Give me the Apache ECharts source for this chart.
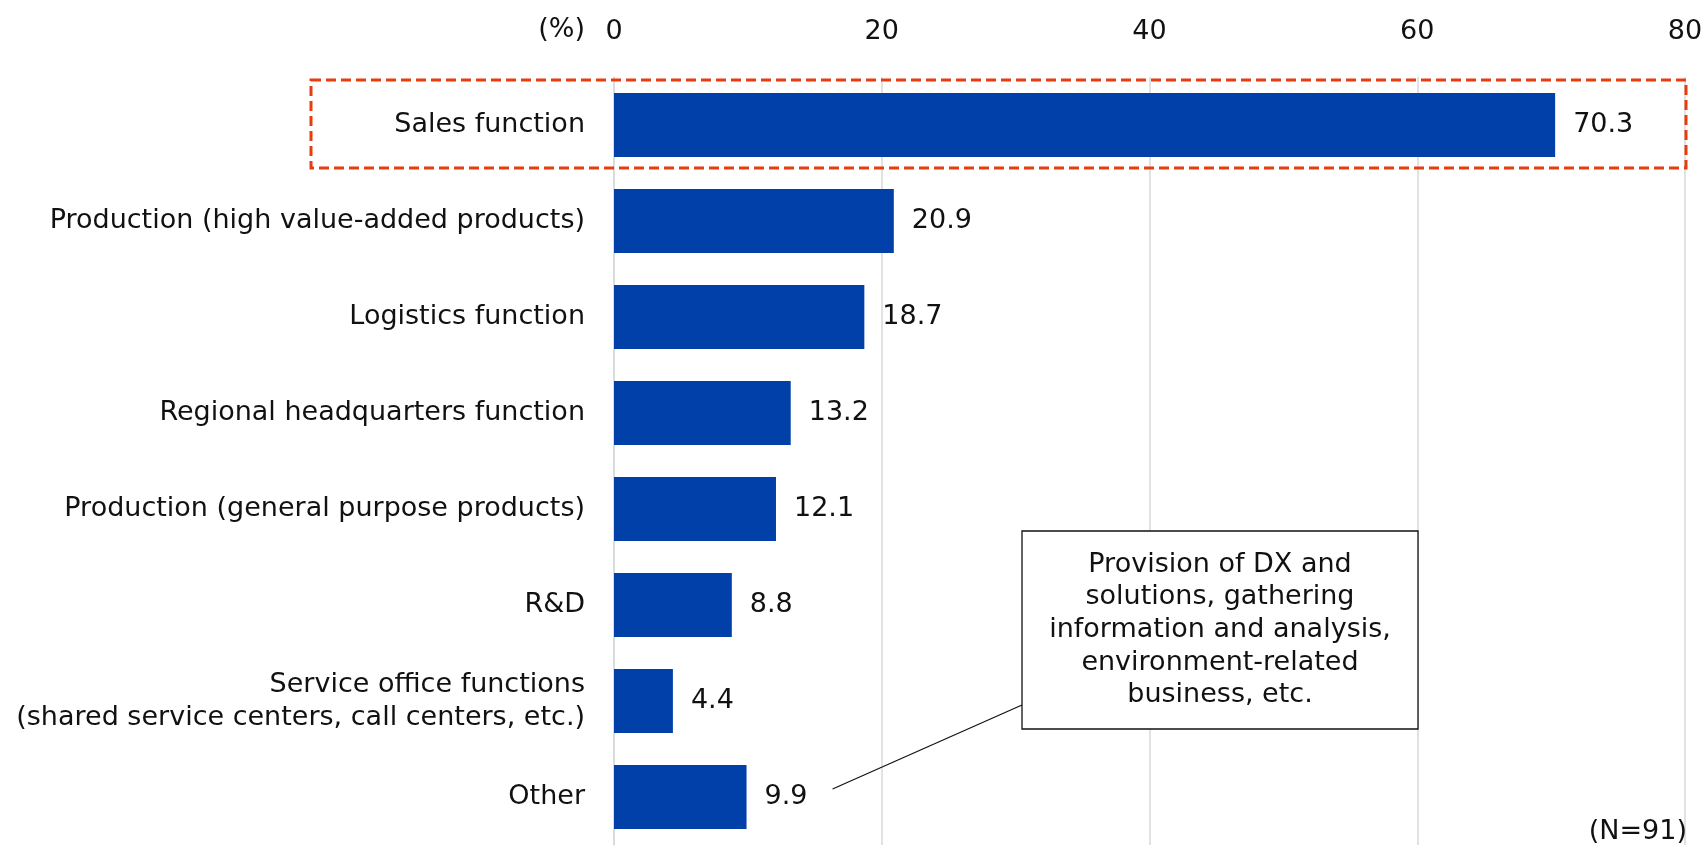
<!DOCTYPE html>
<html>
<head>
<meta charset="utf-8">
<script src="https://cdn.jsdelivr.net/npm/echarts@6/dist/echarts.min.js"></script>
<style>
  html, body { margin: 0; padding: 0; background: #ffffff; }
  #chart { width: 1706px; height: 848px; }
</style>
</head>
<body>
<div id="chart"></div>
<script>
// Functions named by respondents (%), N=91
const categories = [
  'Sales function',
  'Production (high value-added products)',
  'Logistics function',
  'Regional headquarters function',
  'Production (general purpose products)',
  'R&D',
  'Service office functions\n(shared service centers, call centers, etc.)',
  'Other'
];
const shares = [70.3, 20.9, 18.7, 13.2, 12.1, 8.8, 4.4, 9.9];

// Value axis range and step
const axisMin = 0;
const axisMax = 80;
const axisStep = 20;

const unitLabel = '(%)';
const sampleLabel = '(N=91)';
const otherNoteLines = [
  'Provision of DX and',
  'solutions, gathering',
  'information and analysis,',
  'environment-related',
  'business, etc.'
];

const FONT = 'DejaVu Sans';
const FS = 27;
const BAR_COLOR = '#0040A8';
const HIGHLIGHT = '#E63C0F';

const chart = echarts.init(document.getElementById('chart'), null, { renderer: 'canvas' });

const option = {
  animation: false,
  backgroundColor: '#ffffff',
  textStyle: { fontFamily: FONT },
  grid: { left: 614, right: 21, top: 77, bottom: 3, containLabel: false },
  xAxis: {
    type: 'value',
    position: 'top',
    min: axisMin,
    max: axisMax,
    interval: axisStep,
    axisLine: { show: false },
    axisTick: { show: false },
    axisLabel: { color: '#111', fontFamily: FONT, fontSize: FS, margin: 32 },
    splitLine: { show: true, lineStyle: { color: '#d9d9d9', width: 1.5 } }
  },
  yAxis: {
    type: 'category',
    inverse: true,
    data: categories,
    axisLine: { show: true, lineStyle: { color: '#d9d9d9', width: 1.5 } },
    axisTick: { show: false },
    axisLabel: {
      color: '#111', fontFamily: FONT, fontSize: FS, margin: 29,
      align: 'right', lineHeight: 33
    }
  },
  series: [{
    type: 'bar',
    data: shares,
    barCategoryGap: '33.3%',
    itemStyle: { color: BAR_COLOR },
    label: {
      show: true,
      position: 'right',
      distance: 18,
      color: '#111',
      fontFamily: FONT,
      fontSize: FS,
      formatter: p => p.value.toFixed(1)
    }
  }]
};

chart.setOption(option);

// Overlays: highlight frame around the top row, callout for "Other", unit and sample notes
const salesPt = chart.convertToPixel({ xAxisIndex: 0, yAxisIndex: 0 }, [axisMax, categories[0]]);
const otherPt = chart.convertToPixel({ xAxisIndex: 0, yAxisIndex: 0 }, [shares[7], categories[7]]);
const zeroPt = chart.convertToPixel({ xAxisIndex: 0, yAxisIndex: 0 }, [axisMin, categories[0]]);

const frameLeft = 311;
const frameRight = salesPt[0] + 1;
const frameTop = salesPt[1] - 45;
const frameBottom = salesPt[1] + 43;

const boxX = 1022, boxY = 531, boxW = 396, boxH = 198;
const lineStart = [otherPt[0] + 86, otherPt[1] - 8];
const lineEnd = [boxX, 705];

const textFont = FS + 'px "' + FONT + '"';

chart.setOption({
  graphic: [
    {
      type: 'rect',
      shape: { x: frameLeft, y: frameTop, width: frameRight - frameLeft, height: frameBottom - frameTop },
      style: { fill: 'none', stroke: HIGHLIGHT, lineWidth: 3, lineDash: [10, 5] },
      z: 100
    },
    {
      type: 'line',
      shape: { x1: lineStart[0], y1: lineStart[1], x2: lineEnd[0], y2: lineEnd[1] },
      style: { stroke: '#111', lineWidth: 1.2 },
      z: 100
    },
    {
      type: 'rect',
      shape: { x: boxX, y: boxY, width: boxW, height: boxH },
      style: { fill: '#ffffff', stroke: '#111', lineWidth: 1.3 },
      z: 100
    },
    {
      type: 'text',
      x: boxX + boxW / 2,
      y: boxY + boxH / 2,
      style: {
        text: otherNoteLines.join('\n'),
        font: textFont,
        fill: '#111',
        align: 'center',
        verticalAlign: 'middle',
        lineHeight: 32.6
      },
      z: 101
    },
    {
      type: 'text',
      x: zeroPt[0] - 29,
      y: 30,
      style: {
        text: unitLabel,
        font: textFont,
        fill: '#111',
        align: 'right',
        verticalAlign: 'middle'
      },
      z: 100
    },
    {
      type: 'text',
      x: 1687,
      y: 832,
      style: {
        text: sampleLabel,
        font: textFont,
        fill: '#111',
        align: 'right',
        verticalAlign: 'middle'
      },
      z: 100
    }
  ]
});
</script>
</body>
</html>
